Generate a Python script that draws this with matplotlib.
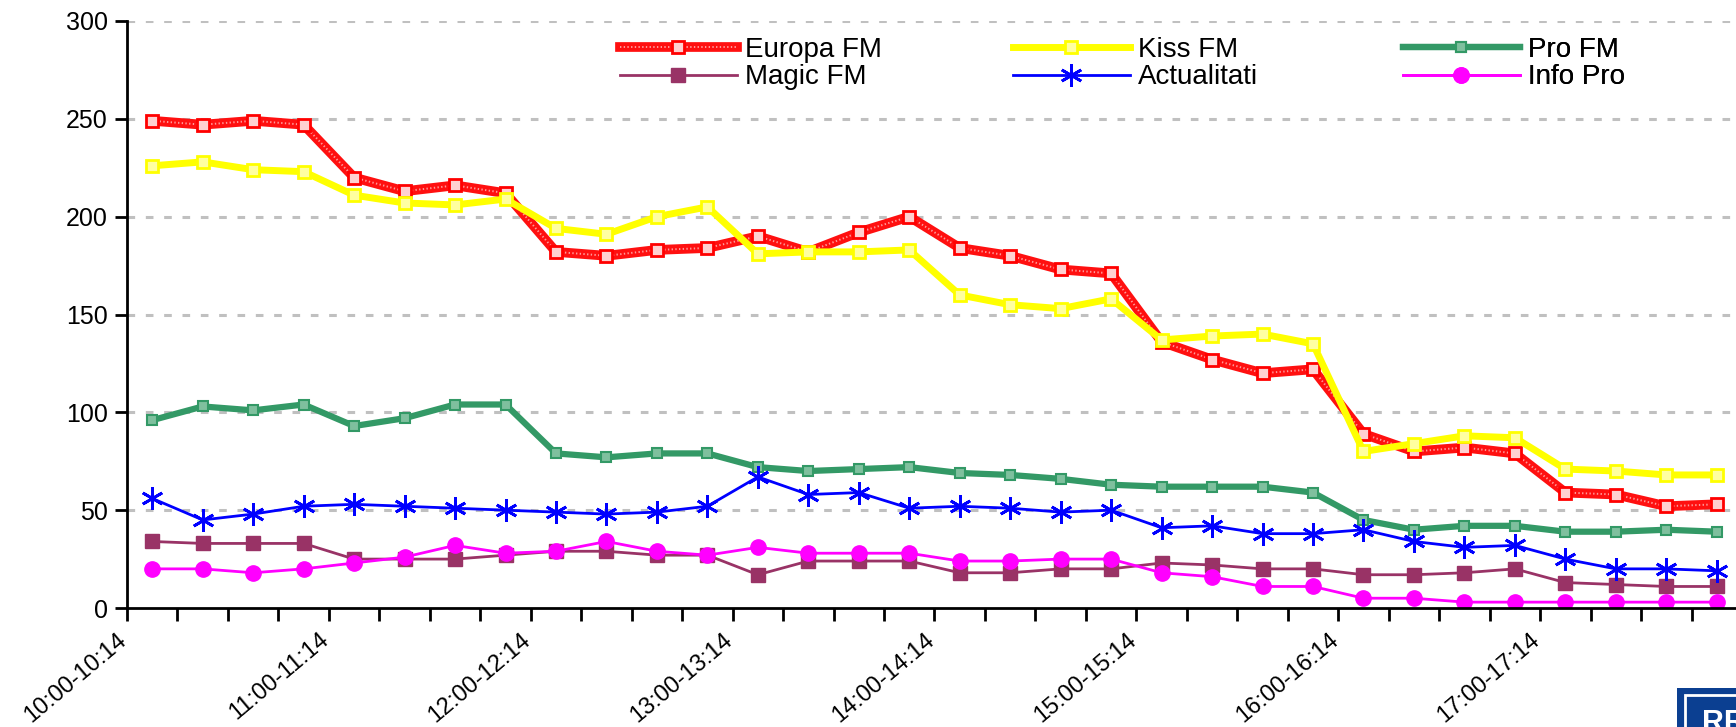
import numpy as np
import matplotlib.pyplot as plt
from matplotlib.patches import Rectangle
from matplotlib.lines import Line2D
import matplotlib.transforms as mtransforms

plt.rcParams['font.family'] = ['Liberation Sans', 'DejaVu Sans']

# Time slots, 15 minutes each
slots = ['%02d:%02d-%02d:%02d' % (h, m, h, m + 14) for h in range(10, 18) for m in (0, 15, 30, 45)]

europa_fm = [249, 247, 249, 247, 220, 213, 216, 212, 182, 180, 183, 184, 190, 182, 192, 200,
             184, 180, 173, 171, 136, 127, 120, 122, 89, 80, 82, 79, 59, 58, 52, 53]
kiss_fm = [226, 228, 224, 223, 211, 207, 206, 209, 194, 191, 200, 205, 181, 182, 182, 183,
           160, 155, 153, 158, 137, 139, 140, 135, 80, 84, 88, 87, 71, 70, 68, 68]
pro_fm = [96, 103, 101, 104, 93, 97, 104, 104, 79, 77, 79, 79, 72, 70, 71, 72,
          69, 68, 66, 63, 62, 62, 62, 59, 45, 40, 42, 42, 39, 39, 40, 39]
magic_fm = [34, 33, 33, 33, 25, 25, 25, 27, 29, 29, 27, 27, 17, 24, 24, 24,
            18, 18, 20, 20, 23, 22, 20, 20, 17, 17, 18, 20, 13, 12, 11, 11]
actualitati = [56, 45, 48, 52, 53, 52, 51, 50, 49, 48, 49, 52, 67, 58, 59, 51,
               52, 51, 49, 50, 41, 42, 38, 38, 40, 34, 31, 32, 25, 20, 20, 19]
info_pro = [20, 20, 18, 20, 23, 26, 32, 28, 29, 34, 29, 27, 31, 28, 28, 28,
            24, 24, 25, 25, 18, 16, 11, 11, 5, 5, 3, 3, 3, 3, 3, 3]

x = np.arange(len(slots))

fig = plt.figure(figsize=(17.36, 7.27), dpi=100)
ax = fig.add_axes([127 / 1736, 119 / 727, (1742 - 127) / 1736, 587 / 727])

# grid
for v in range(50, 301, 50):
    ax.axhline(v, color='#c0c0c0', lw=2.2, dashes=(2.5, 3.5), zorder=0)

# Europa FM: thick red line with a light pattern on it
ax.plot(x, europa_fm, color='#ff1010', lw=7, solid_joinstyle='round', zorder=2)
ax.plot(x, europa_fm, color='#ff9a9a', lw=1.4, dashes=(0.7, 1.2), zorder=2.1)
ax.plot(x, europa_fm, ls='none', marker='s', ms=9, mfc='#ffd0d0', mec='#ff0000', mew=2, zorder=2.2)

ax.plot(x, kiss_fm, color='#ffff00', lw=5, marker='s', ms=9, mfc='#ffffa0', mec='#ffff00',
        mew=2, zorder=3)
ax.plot(x, pro_fm, color='#339966', lw=4.5, marker='s', ms=6.5, mfc='#7fc09e', mec='#339966',
        mew=1.5, zorder=4)
ax.plot(x, magic_fm, color='#993366', lw=2, marker='s', ms=10, mfc='#993366', mec='#993366',
        zorder=5)
ax.plot(x, actualitati, color='#0000ff', lw=2, marker=(6, 2, 0), ms=16, mec='#0000ff',
        mew=2, zorder=6)
ax.plot(x, info_pro, color='#ff00ff', lw=2, marker='o', ms=11, mfc='#ff00ff', mec='#ff00ff',
        zorder=7)

ax.set_xlim(-0.5, len(slots) - 0.5)
ax.set_ylim(0, 300)
ax.set_yticks(range(0, 301, 50))
ax.tick_params(axis='y', labelsize=18, length=9, width=2, pad=5)

bounds = np.arange(-0.5, len(slots), 1.0)
ax.set_xticks(bounds)
ax.set_xticklabels([slots[int(b + 0.5)] if int(b + 0.5) % 4 == 0 and b + 0.5 < len(slots) else ''
                    for b in bounds], rotation=40, ha='right', va='center',
                   rotation_mode='anchor', fontsize=17)
ax.tick_params(axis='x', length=9, width=2, pad=12)
offset = mtransforms.ScaledTranslation(-2 / 72, 0, fig.dpi_scale_trans)
for lab in ax.get_xticklabels():
    lab.set_transform(lab.get_transform() + offset)

for s in ['top', 'right']:
    ax.spines[s].set_visible(False)
for s in ['left', 'bottom']:
    ax.spines[s].set_linewidth(2)
ax.spines['bottom'].set_zorder(10)

# legend: three columns placed one by one
h_eu = (Line2D([], [], color='#ff1010', lw=7), Line2D([], [], color='#ff9a9a', lw=1.4, dashes=(0.7, 1.2)),
        Line2D([], [], ls='none', marker='s', ms=9, mfc='#ffd0d0', mec='#ff0000', mew=2))
h_kiss = Line2D([], [], color='#ffff00', lw=5, marker='s', ms=9, mfc='#ffffa0', mec='#ffff00', mew=2)
h_pro = Line2D([], [], color='#339966', lw=4.5, marker='s', ms=6.5, mfc='#7fc09e', mec='#339966', mew=1.5)
h_magic = Line2D([], [], color='#993366', lw=2, marker='s', ms=10, mfc='#993366', mec='#993366')
h_act = Line2D([], [], color='#0000ff', lw=2, marker=(6, 2, 0), ms=16, mec='#0000ff', mew=2)
h_info = Line2D([], [], color='#ff00ff', lw=2, marker='o', ms=11, mfc='#ff00ff', mec='#ff00ff')

columns = [([h_eu, h_magic], ['Europa FM', 'Magic FM'], 620),
           ([h_kiss, h_act], ['Kiss FM', 'Actualitati'], 1013),
           ([h_pro, h_info], ['Pro FM', 'Info Pro'], 1403)]
for handles, labels, xpos in columns:
    leg = ax.legend(handles, labels, loc='upper left', bbox_to_anchor=(xpos / 1736, 1 - 37 / 727),
                    bbox_transform=fig.transFigure, frameon=False, fontsize=20,
                    handlelength=4.2, handletextpad=0.3, labelspacing=0.05,
                    borderpad=0, borderaxespad=0)
    ax.add_artist(leg)

# partially visible logo at the bottom-right corner
fig.patches.append(Rectangle((1677 / 1736, 0), 80 / 1736, 39 / 727, transform=fig.transFigure,
                             facecolor='#0b3f91', edgecolor='none', zorder=20))
fig.patches.append(Rectangle((1685 / 1736, -0.01), 80 / 1736, 32 / 727 + 0.01, transform=fig.transFigure,
                             facecolor='none', edgecolor='white', lw=2, zorder=21))
fig.text(1702 / 1736, -12 / 727, 'RRA', color='white', fontsize=22, fontweight='bold',
         ha='left', va='bottom', zorder=22)

fig.savefig('out.png', dpi=100)
